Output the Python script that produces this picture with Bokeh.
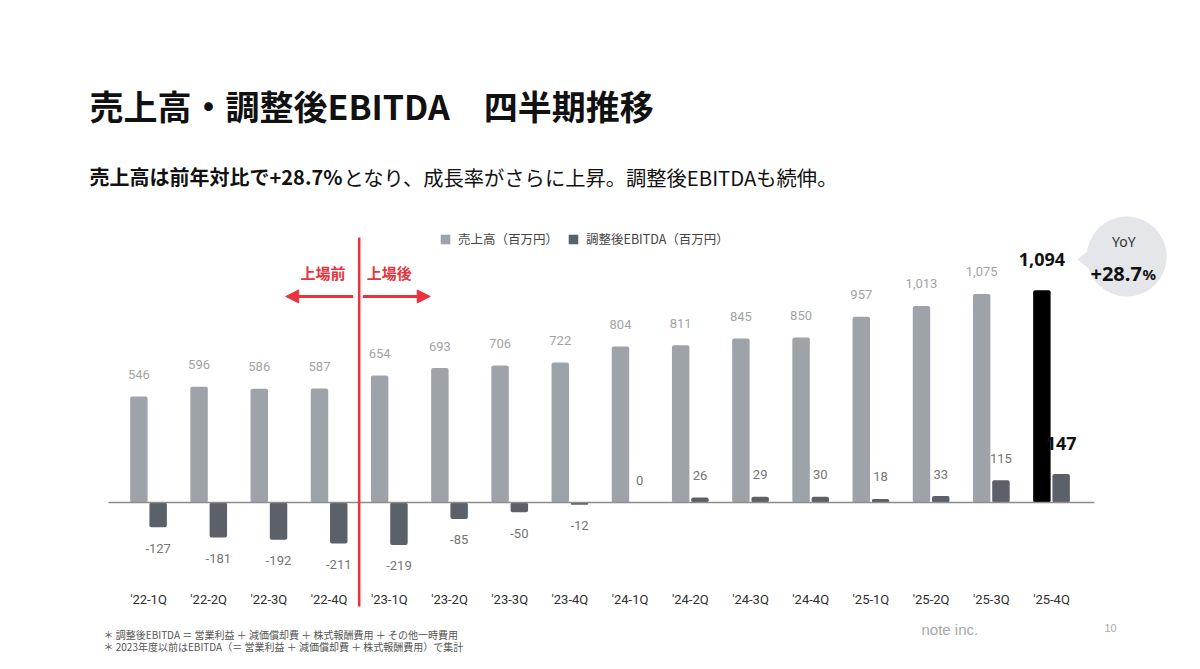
from bokeh.plotting import figure
from bokeh.models import (ColumnDataSource, Range1d, LinearAxis, FixedTicker, Label,
                          Legend, LegendItem, Arrow, NormalHead)
from bokeh.core.properties import value
from bokeh.embed import file_html
from bokeh.resources import INLINE

# ---- data ----
quarters = ["'22-1Q", "'22-2Q", "'22-3Q", "'22-4Q",
            "'23-1Q", "'23-2Q", "'23-3Q", "'23-4Q",
            "'24-1Q", "'24-2Q", "'24-3Q", "'24-4Q",
            "'25-1Q", "'25-2Q", "'25-3Q", "'25-4Q"]
revenue = [546, 596, 586, 587, 654, 693, 706, 722, 804, 811, 845, 850, 957, 1013, 1075, 1094]
ebitda = [-127, -181, -192, -211, -219, -85, -50, -12, 0, 26, 29, 30, 18, 33, 115, 147]
ipo_index = 4          # first quarter after listing
yoy_text = "+28.7"

title = "売上高・調整後EBITDA　四半期推移"
subtitle_bold = "売上高は前年対比で+28.7%"
subtitle_rest = "となり、成長率がさらに上昇。調整後EBITDAも続伸。"
legend_rev = "売上高（百万円）"
legend_ebitda = "調整後EBITDA（百万円）"
note1 = "＊ 調整後EBITDA ＝ 営業利益 ＋ 減価償却費 ＋ 株式報酬費用 ＋ その他一時費用"
note2 = "＊ 2023年度以前はEBITDA（＝ 営業利益 ＋ 減価償却費 ＋ 株式報酬費用）で集計"

# ---- styling ----
REV_C = "#9da3a8"
EB_C = "#5b6169"
RED = "#e8333d"
JP = "Noto Sans CJK JP"
NUM = "Roboto"

W, H = 1184, 653
n = len(quarters)
idx = list(range(n))
off = 0.16
bw = 0.29

p = figure(width=W, height=H, output_backend="svg", toolbar_location=None,
           x_axis_type=None, y_axis_type=None,
           x_range=Range1d(-2.4585, 17.209), y_range=Range1d(-778.4, 2587.6),
           min_border=0, min_border_left=0, min_border_right=0,
           min_border_top=0, min_border_bottom=0)
p.outline_line_color = None
p.grid.visible = False
p.background_fill_color = "white"

# bars
hist = ColumnDataSource(dict(x=[i - off for i in idx[:-1]], top=revenue[:-1]))
last = ColumnDataSource(dict(x=[idx[-1] - off], top=[revenue[-1]]))
ebs = ColumnDataSource(dict(x=[i + off for i in idx], top=ebitda))

r_rev = p.vbar(x="x", top="top", bottom=0, width=bw, source=hist,
               fill_color=REV_C, line_color=None, border_radius=2)
p.vbar(x="x", top="top", bottom=0, width=bw, source=last,
       fill_color="#000000", line_color=None, border_radius=2)
r_eb = p.vbar(x="x", top="top", bottom=0, width=bw, source=ebs,
              fill_color=EB_C, line_color=None, border_radius=2)

# baseline
p.segment(x0=[-0.665], x1=[n - 0.29], y0=[0], y1=[0], line_color="#8c8c8c", line_width=1.3)

# value labels
rev_lab = ColumnDataSource(dict(x=[i - off for i in idx[:-1]], y=revenue[:-1],
                                t=[f"{v:,}" for v in revenue[:-1]]))
p.text(x="x", y="y", text="t", source=rev_lab, text_align="center", text_baseline="middle",
       y_offset=-22, text_font=value(NUM), text_font_size="13px", text_color="#a3a3a3")
p.text(x=[idx[-1] - off], y=[revenue[-1]], text=[f"{revenue[-1]:,}"], text_align="center",
       text_baseline="middle", y_offset=-31, text_font=value("Noto Sans"),
       text_font_size="18px", text_font_style="bold", text_color="#111111")

eb_lab = ColumnDataSource(dict(x=[i + off for i in idx[:-1]], y=ebitda[:-1],
                               t=[f"{v:,}" for v in ebitda[:-1]],
                               o=[21 if v < 0 else -22 for v in ebitda[:-1]]))
p.text(x="x", y="y", text="t", source=eb_lab, text_align="center", text_baseline="middle",
       y_offset="o", text_font=value(NUM), text_font_size="13px", text_color="#757575")
p.text(x=[idx[-1] + off], y=[ebitda[-1]], text=[f"{ebitda[-1]:,}"], text_align="center",
       text_baseline="middle", y_offset=-30, text_font=value("Noto Sans"),
       text_font_size="18px", text_font_style="bold", text_color="#111111")

# category axis
ax = LinearAxis(fixed_location=-412, ticker=FixedTicker(ticks=idx),
                major_label_overrides={i: q for i, q in enumerate(quarters)})
ax.axis_line_color = None
ax.major_tick_line_color = None
ax.minor_tick_line_color = None
ax.major_label_standoff = 4
ax.major_label_text_font = NUM
ax.major_label_text_font_size = "13px"
ax.major_label_text_color = "#2e2e2e"
p.add_layout(ax, "below")

# IPO divider
xd = ipo_index - 0.5
p.segment(x0=[xd], x1=[xd], y0=[-536], y1=[1366], line_color=RED, line_width=2.5)
p.add_layout(Arrow(end=NormalHead(size=13, fill_color=RED, line_color=RED),
                   x_start=xd - 0.1, y_start=1062, x_end=xd - 1.22, y_end=1062,
                   line_color=RED, line_width=3))
p.add_layout(Arrow(end=NormalHead(size=13, fill_color=RED, line_color=RED),
                   x_start=xd + 0.06, y_start=1062, x_end=xd + 1.18, y_end=1062,
                   line_color=RED, line_width=3))
p.text(x=[xd - 0.6, xd + 0.5], y=[1185, 1185], text=["上場前", "上場後"],
       text_align="center", text_baseline="middle", text_font=value(JP),
       text_font_size="15px", text_font_style="bold", text_color=RED)

# YoY bubble
bx, by = n - 1 + 1.25, 1268
p.patch(x=[bx - 0.82, bx - 0.55, bx - 0.55], y=[by - 15, by + 52, by - 82],
        fill_color="#e4e6e9", line_color=None)
p.scatter(x=[bx], y=[by], size=80, marker="circle", fill_color="#e4e6e9", line_color=None)
p.text(x=[bx - 0.05], y=[by + 77], text=["YoY"], text_align="center", text_baseline="middle",
       text_font=value("Noto Sans"), text_font_size="14px", text_color="#333333")
p.text(x=[bx + 0.25], y=[by - 88], text=[yoy_text], text_align="right",
       text_baseline="alphabetic", text_font=value("Noto Sans"), text_font_size="20px",
       text_font_style="bold", text_color="#111111")
p.text(x=[bx + 0.26], y=[by - 88], text=["%"], text_align="left",
       text_baseline="alphabetic", text_font=value("Noto Sans"), text_font_size="15px",
       text_font_style="bold", text_color="#111111")

# legend
leg = Legend(items=[LegendItem(label=legend_rev, renderers=[r_rev]),
                    LegendItem(label=legend_ebitda, renderers=[r_eb])],
             orientation="horizontal", location=(439, 405))
leg.padding = 0
leg.margin = 0
leg.spacing = 9
leg.glyph_width = 12
leg.glyph_height = 12
leg.label_standoff = 7
leg.label_text_font = JP
leg.label_text_font_size = "12.5px"
leg.label_text_color = "#444444"
leg.border_line_color = None
leg.background_fill_alpha = 0
p.add_layout(leg, "center")


# screen texts (page coordinates -> frame)
def lab(text, sx, sy, size, color="#111111", bold=False, font=JP, align="left"):
    p.add_layout(Label(x=sx, y=H - sy, x_units="screen", y_units="screen",
                       text=text, text_font=font, text_font_size=size,
                       text_font_style="bold" if bold else "normal",
                       text_color=color, text_align=align, text_baseline="middle"))


lab(title, 89, 105, "34px", bold=True)
lab(subtitle_bold, 89, 176, "20px", bold=True)
lab(subtitle_rest, 343, 176, "20.3px")
lab(note1, 103, 634, "10px", color="#555555")
lab(note2, 103, 646, "10px", color="#555555")
lab("note inc.", 921, 629, "15px", color="#a8a8a8", font="Liberation Sans")
lab("10", 1104, 627, "11px", color="#a8a8a8", font="Liberation Sans")

open("out.html", "w").write(file_html(p, INLINE))
